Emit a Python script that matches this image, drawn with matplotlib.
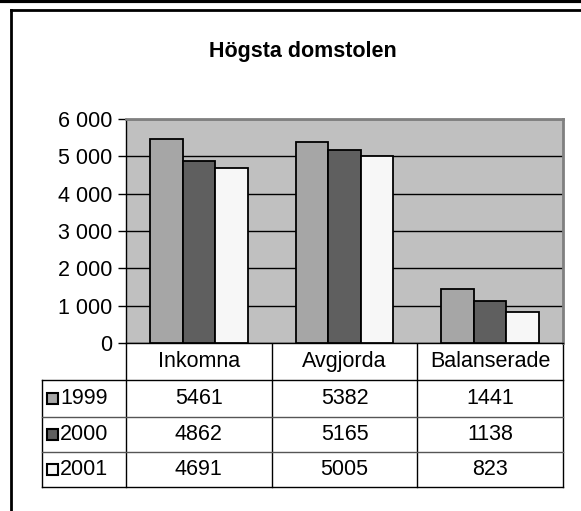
import matplotlib
matplotlib.use("Agg")
import matplotlib.pyplot as plt
import matplotlib.transforms as mtransforms
from matplotlib.patches import Rectangle
from matplotlib.lines import Line2D
import numpy as np

plt.rcParams['font.family'] = ['Liberation Sans', 'DejaVu Sans']

title = "Högsta domstolen"
categories = ["Inkomna", "Avgjorda", "Balanserade"]
years = ["1999", "2000", "2001"]
v1999 = [5461, 5382, 1441]
v2000 = [4862, 5165, 1138]
v2001 = [4691, 5005, 823]
series = [v1999, v2000, v2001]
colors = ["#a6a6a6", "#5f5f5f", "#f7f7f7"]
yticks = [0, 1000, 2000, 3000, 4000, 5000, 6000]
ytick_labels = ["0", "1 000", "2 000", "3 000", "4 000", "5 000", "6 000"]

W, H = 581, 511
dpi = 100
FS = 15.5
fig = plt.figure(figsize=(W / dpi, H / dpi), dpi=dpi)

# overlay axes in pixel coordinates
ov = fig.add_axes([0, 0, 1, 1])
ov.set_xlim(0, W)
ov.set_ylim(H, 0)
ov.axis('off')

def fx(px):
    return px / W

def fy(py):
    return 1 - py / H

L, R, T, B = 126, 563, 119, 343
ax = fig.add_axes([fx(L), fy(B), fx(R) - fx(L), fy(T) - fy(B)])
ax.set_facecolor("#c0c0c0")
x = np.arange(len(categories))
bw = 0.223
for i, (vals, c) in enumerate(zip(series, colors)):
    ax.bar(x + (i - 1) * bw, vals, width=bw, color=c, edgecolor='black',
           linewidth=1.3, zorder=3)
ax.set_xlim(-0.5, len(categories) - 0.5)
ax.set_ylim(0, 6000)
ax.set_yticks(yticks)
ax.set_yticklabels(ytick_labels, fontsize=FS)
ax.yaxis.grid(True, color='black', linewidth=1.0, zorder=1)
ax.set_axisbelow(True)
ax.set_xticks([])
ax.tick_params(axis='y', length=6, width=1, color='black', pad=4)
ax.spines['top'].set_color('#808080')
ax.spines['right'].set_color('#808080')
ax.spines['top'].set_linewidth(2)
ax.spines['right'].set_linewidth(2)
ax.spines['left'].set_color('black')
ax.spines['bottom'].set_color('black')
ax.spines['left'].set_linewidth(1)
ax.spines['bottom'].set_linewidth(1)

# title
ov.text(303, 52, title, ha='center', va='center', fontsize=FS,
        fontweight='bold')

# outer frame
ov.add_line(Line2D([0, W], [1.5, 1.5], color='black', linewidth=3))
ov.add_line(Line2D([11, W], [10.5, 10.5], color='black', linewidth=2))
ov.add_line(Line2D([11, 11], [10.5, H], color='black', linewidth=2))

# data table (x in category data coords, y in pixels)
bt = mtransforms.blended_transform_factory(ax.transData, ov.transData)
edges = list(np.arange(len(categories) + 1) - 0.5)
row_lines = [380, 417, 452, 487]
tbl_left = 42

for e in edges:
    ov.plot([e, e], [B, row_lines[-1]], color='black', linewidth=1,
            transform=bt, clip_on=False)
ov.add_line(Line2D([tbl_left, tbl_left], [row_lines[0], row_lines[-1]],
                   color='black', linewidth=1))
for k, yl in enumerate(row_lines):
    col = 'black' if k in (0, len(row_lines) - 1) else '#555555'
    ov.add_line(Line2D([tbl_left, R], [yl, yl], color=col, linewidth=1))

for j, cat in enumerate(categories):
    ov.text(j, (B + row_lines[0]) / 2, cat, ha='center', va='center',
            fontsize=FS, transform=bt)

for i, (yr, vals, c) in enumerate(zip(years, series, colors)):
    yc = (row_lines[i] + row_lines[i + 1]) / 2
    ov.add_patch(Rectangle((47, yc - 5.5), 11, 11, facecolor=c,
                           edgecolor='black', linewidth=1.5))
    ov.text(60, yc, yr, ha='left', va='center', fontsize=FS)
    for j, v in enumerate(vals):
        ov.text(j, yc, str(v), ha='center', va='center', fontsize=FS,
                transform=bt)

fig.savefig("out.png", dpi=dpi)
